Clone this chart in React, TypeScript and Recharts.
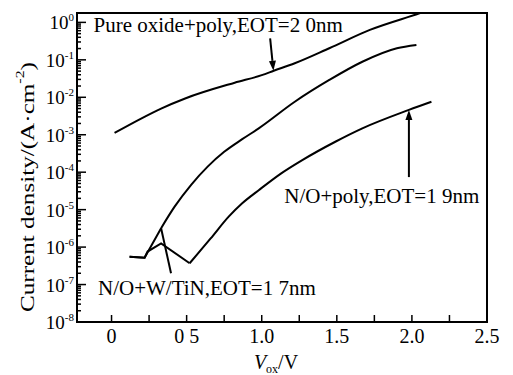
import { LineChart, Line, XAxis, YAxis, ReferenceArea, ReferenceLine, ReferenceDot } from "recharts";

const FONT = "'Liberation Serif', 'Times New Roman', serif";

// Pure oxide + poly, EOT = 2.0 nm
const oxideV = [0.02, 0.2, 0.33, 0.49, 0.82, 1.0, 1.08, 1.22, 1.45, 1.72, 2.05, 2.2];
const oxideJ = [1.12e-3, 2.75e-3, 5.0e-3, 9.3e-3, 2.45e-2, 3.9e-2, 5.1e-2, 8.1e-2, 2.04e-1, 6.3e-1, 1.74, 2.8];

// N/O + W/TiN, EOT = 1.7 nm
const tinV = [0.12, 0.22, 0.33, 0.42, 0.53, 0.64, 0.75, 0.87, 0.98, 1.22, 1.45, 1.67, 1.9, 2.03];
const tinJ = [5.5e-7, 5.2e-7, 3.2e-6, 1.2e-5, 4.6e-5, 1.41e-4, 3.5e-4, 7.6e-4, 1.48e-3, 7.6e-3, 2.9e-2, 8.9e-2, 2.04e-1, 2.5e-1];

// N/O + poly, EOT = 1.9 nm
const polyV = [0.12, 0.22, 0.24, 0.33, 0.52, 0.66, 0.78, 0.87, 0.98, 1.13, 1.27, 1.49, 1.67, 1.98, 2.13];
const polyJ = [5.5e-7, 5.2e-7, 7.6e-7, 1.26e-6, 3.7e-7, 1.7e-6, 6.5e-6, 1.48e-5, 3.3e-5, 9.3e-5, 2.1e-4, 6.5e-4, 1.48e-3, 4.6e-3, 7.6e-3];

const xDomain = [-0.23, 2.5];
const yDomain = [1e-8, 1.78];
const xTicks = [0, 0.25, 0.5, 0.75, 1, 1.25, 1.5, 1.75, 2, 2.25, 2.5];
const xLabelValues = [0, 0.5, 1, 1.5, 2, 2.5];
const xLabelTexts = ["0", "0 5", "1.0", "1.5", "2.0", "2.5"];
const yExponents = [-8, -7, -6, -5, -4, -3, -2, -1, 0];
const yMinor = [2, 3, 4, 5, 6, 7, 8, 9];

// annotations (data coords)
const noteV = [-0.12, 1.15, -0.09];
const noteJ = [0.55, 1.5e-5, 5.2e-8];
const noteText = ["Pure oxide+poly,EOT=2 0nm", "N/O+poly,EOT=1 9nm", "N/O+W/TiN,EOT=1 7nm"];

const toRows = (v: number[], j: number[]) => v.map((x, i) => ({ v: x, j: j[i] }));
const oxideData = toRows(oxideV, oxideJ);
const tinData = toRows(tinV, tinJ);
const polyData = toRows(polyV, polyJ);

// noisy low-voltage part is drawn straight, the rest smooth
const tinLow = tinData.slice(0, 3);
const tinHigh = tinData.slice(2);
const polyLow = polyData.slice(0, 5);
const polyHigh = polyData.slice(4);

const yTicks: number[] = [];
yExponents.forEach((e) => {
  yTicks.push(Math.pow(10, e));
  if (e < 0) yMinor.forEach((k) => yTicks.push(k * Math.pow(10, e)));
});

const Y_GAP = 3;

function YTick(props: any) {
  const { x, y, payload } = props;
  const lg = Math.log10(payload.value);
  const e = Math.round(lg);
  const major = Math.abs(lg - e) < 1e-6;
  const ax = x + Y_GAP;
  return (
    <g>
      <line x1={ax} x2={ax + (major ? 9 : 4)} y1={y} y2={y} stroke="#000" strokeWidth={1.5} />
      {major && (
        <text x={x} y={y} dy={7} textAnchor="end" fontSize={19} fontFamily={FONT} fill="#000">
          10
          <tspan dy={-8} fontSize={11}>
            {String(e)}
          </tspan>
        </text>
      )}
    </g>
  );
}

function XTick(props: any) {
  const { x, y, payload } = props;
  const i = xLabelValues.indexOf(payload.value);
  return (
    <g>
      <line x1={x} x2={x} y1={y} y2={y - 7} stroke="#000" strokeWidth={1.5} />
      {i >= 0 && (
        <text x={x} y={y + 21} textAnchor="middle" fontSize={20} fontFamily={FONT} fill="#000">
          {xLabelTexts[i]}
        </text>
      )}
    </g>
  );
}

function Arrow(props: any) {
  const { x1, y1, x2, y2, head } = props;
  const ang = Math.atan2(y2 - y1, x2 - x1);
  const L = head ? 10 : 0;
  const W = 3.5;
  const bx = x2 - L * Math.cos(ang);
  const by = y2 - L * Math.sin(ang);
  const px = -Math.sin(ang) * W;
  const py = Math.cos(ang) * W;
  return (
    <g>
      <line x1={x1} y1={y1} x2={bx} y2={by} stroke="#000" strokeWidth={2} />
      {head && <polygon points={`${x2},${y2} ${bx + px},${by + py} ${bx - px},${by - py}`} fill="#000" />}
    </g>
  );
}

const lineProps = { dataKey: "j", stroke: "#000", strokeWidth: 2, dot: false, isAnimationActive: false };

export default function App() {
  return (
    <div style={{ position: "absolute", left: 0, top: 0, width: 513, height: 375, background: "#fff" }}>
      <LineChart
        width={513}
        height={375}
        margin={{ top: 13, right: 26, bottom: 0, left: 0 }}
        style={{ fontFamily: FONT }}
      >
        <XAxis
          dataKey="v"
          type="number"
          domain={xDomain}
          allowDataOverflow
          ticks={xTicks}
          interval={0}
          height={53}
          axisLine={false}
          tickSize={0}
          tickMargin={0}
          tick={<XTick />}
        />
        <YAxis
          dataKey="j"
          scale="log"
          domain={yDomain}
          allowDataOverflow
          ticks={yTicks}
          interval={0}
          width={77}
          axisLine={false}
          tickSize={0}
          tickMargin={Y_GAP}
          tick={<YTick />}
        />
        <ReferenceArea
          x1={xDomain[0]}
          x2={xDomain[1]}
          y1={yDomain[0]}
          y2={yDomain[1]}
          fill="none"
          fillOpacity={0}
          stroke="#000"
          strokeWidth={2}
        />
        <Line data={oxideData} type="monotone" {...lineProps} />
        <Line data={tinLow} type="linear" {...lineProps} />
        <Line data={tinHigh} type="monotone" {...lineProps} />
        <Line data={polyLow} type="linear" {...lineProps} />
        <Line data={polyHigh} type="monotone" {...lineProps} />
        <ReferenceLine
          segment={[{ x: 1.056, y: 0.375 }, { x: 1.078, y: 0.051 }]}
          shape={(p: any) => <Arrow {...p} head />}
        />
        <ReferenceLine
          segment={[{ x: 1.98, y: 7.4e-5 }, { x: 1.98, y: 4.6e-3 }]}
          shape={(p: any) => <Arrow {...p} head />}
        />
        <ReferenceLine
          segment={[{ x: 0.396, y: 2.0e-7 }, { x: 0.33, y: 3.2e-6 }]}
          shape={(p: any) => <Arrow {...p} head={false} />}
        />
        {noteText.map((t, i) => (
          <ReferenceDot
            key={t}
            x={noteV[i]}
            y={noteJ[i]}
            r={0}
            shape={(p: any) => (
              <text x={p.cx} y={p.cy} fontSize={21} fontFamily={FONT} fill="#000">
                {t}
              </text>
            )}
          />
        ))}
      </LineChart>
      <svg width={513} height={375} style={{ position: "absolute", left: 0, top: 0, pointerEvents: "none" }}>
        <text
          transform="translate(27,187) rotate(-90)"
          textAnchor="middle"
          dominantBaseline="central"
          fontSize={19}
          fontFamily={FONT}
          textLength={250}
          lengthAdjust="spacingAndGlyphs"
        >
          Current density/(A·cm<tspan dy={-7} fontSize={12}>-2</tspan>
          <tspan dy={7}>)</tspan>
        </text>
        <text x={276} y={369} textAnchor="middle" fontSize={20} fontFamily={FONT}>
          <tspan fontStyle="italic">V</tspan>
          <tspan dy={4} fontSize={12}>ox</tspan>
          <tspan dy={-4}>/V</tspan>
        </text>
      </svg>
    </div>
  );
}
